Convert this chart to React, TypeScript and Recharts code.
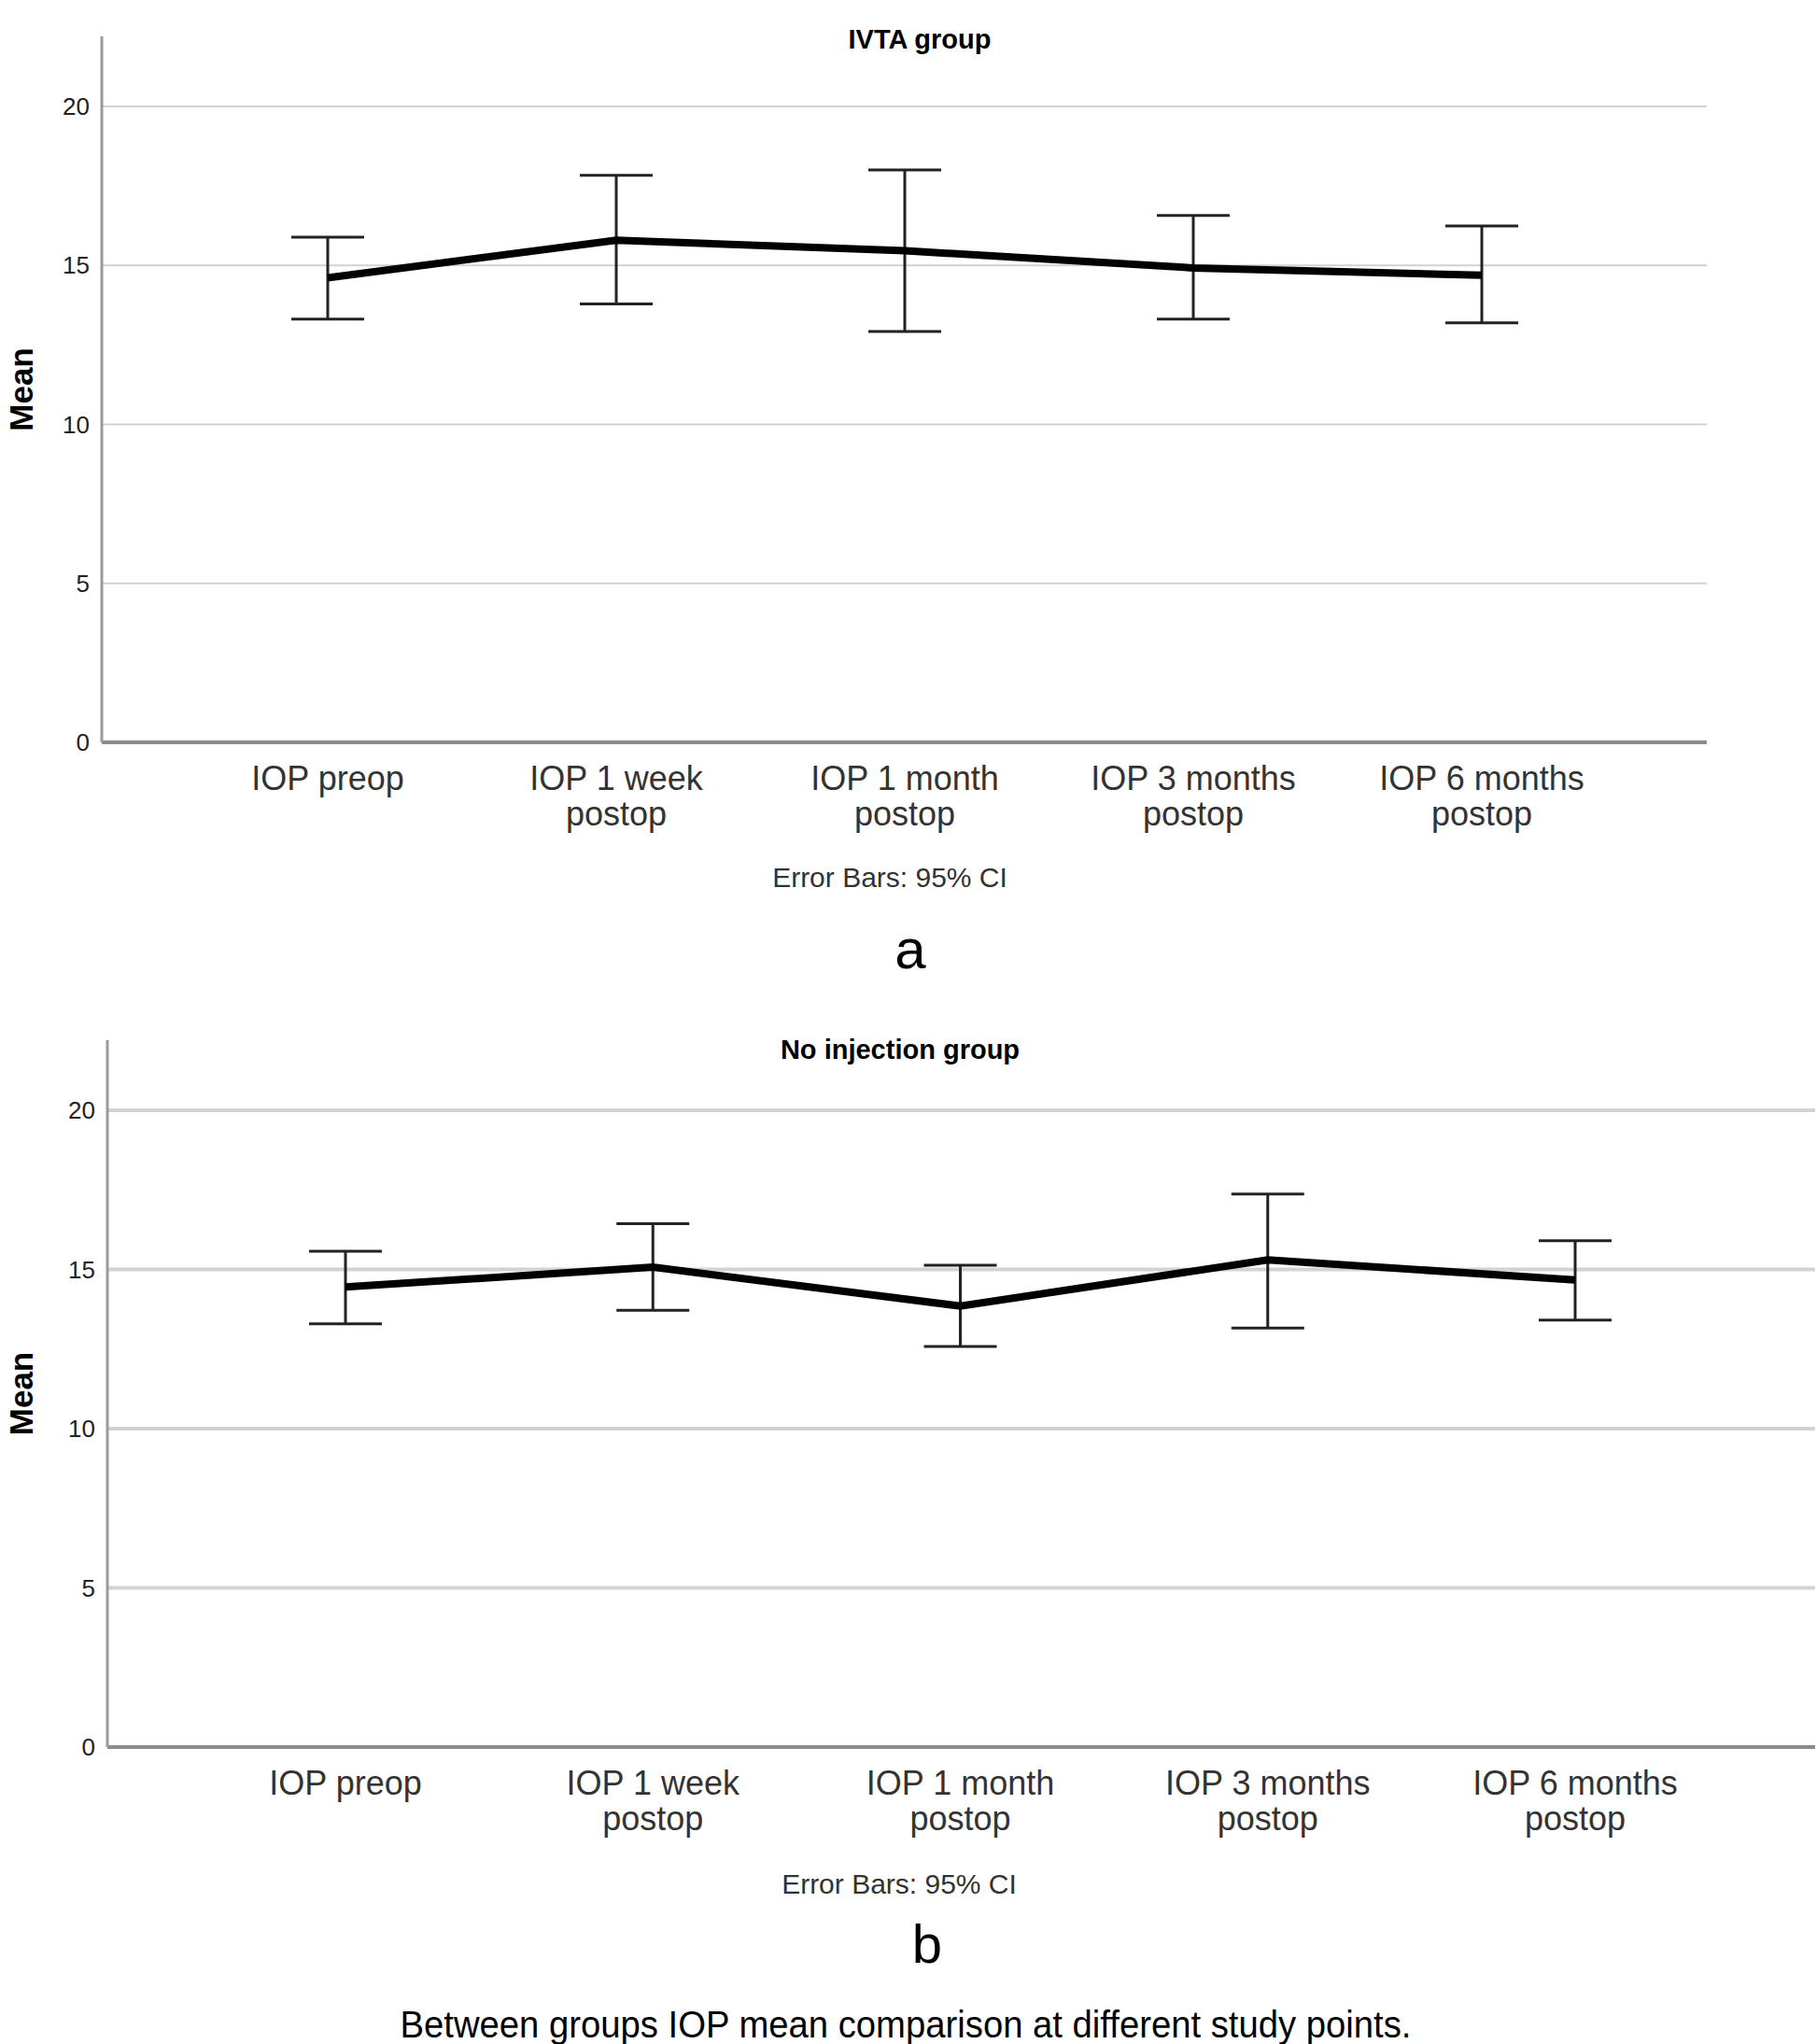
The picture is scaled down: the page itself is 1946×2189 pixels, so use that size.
import React from 'react';
import { LineChart, Line, XAxis, YAxis, CartesianGrid, ErrorBar } from 'recharts';

const categories = [
  'IOP preop',
  'IOP 1 week\npostop',
  'IOP 1 month\npostop',
  'IOP 3 months\npostop',
  'IOP 6 months\npostop',
];
const yTicks = [0, 5, 10, 15, 20];
const gridValues = [5, 10, 15, 20];

// IVTA group: mean with 95% CI bounds
const ivtaMean = [14.61, 15.79, 15.46, 14.92, 14.69];
const ivtaLower = [13.31, 13.79, 12.92, 13.31, 13.19];
const ivtaUpper = [15.89, 17.83, 18.0, 16.57, 16.24];

// No injection group
const noInjMean = [14.45, 15.07, 13.85, 15.3, 14.67];
const noInjLower = [13.29, 13.72, 12.58, 13.16, 13.41];
const noInjUpper = [15.57, 16.44, 15.13, 17.37, 15.9];

const FONT = '"Liberation Sans", Arial, sans-serif';

const buildData = (mean: number[], lower: number[], upper: number[]) =>
  categories.map((name, i) => ({
    name,
    mean: mean[i],
    ci: [mean[i] - lower[i], upper[i] - mean[i]],
  }));

const ivtaData = buildData(ivtaMean, ivtaLower, ivtaUpper);
const noInjData = buildData(noInjMean, noInjLower, noInjUpper);

const CategoryTick = (props: any) => {
  const { x, y, payload } = props;
  const lines = String(payload.value).split('\n');
  return (
    <text x={x} y={y} textAnchor="middle" fontSize={36} fill="#333" fontFamily={FONT}>
      {lines.map((l, i) => (
        <tspan key={i} x={x} dy={i === 0 ? 51 : 38}>
          {l}
        </tspan>
      ))}
    </text>
  );
};

const MeanLabel = (props: any) => {
  const { viewBox } = props;
  const cx = 35;
  const cy = viewBox.y + viewBox.height / 2;
  return (
    <text
      x={cx}
      y={cy}
      transform={`rotate(-90, ${cx}, ${cy})`}
      textAnchor="middle"
      fontWeight="bold"
      fontSize={35}
      fill="#000"
      fontFamily={FONT}
    >
      Mean
    </text>
  );
};

interface GroupChartProps {
  data: any[];
  top: number;
  margin: { top: number; left: number; right: number; bottom: number };
  xHeight: number;
  xPad: { left: number; right: number };
  gridWidth: number;
}

const GroupChart: React.FC<GroupChartProps> = ({ data, top, margin, xHeight, xPad, gridWidth }) => (
  <div style={{ position: 'absolute', left: 0, top }}>
    <LineChart width={1946} height={1000} data={data} margin={margin}>
      <CartesianGrid
        vertical={false}
        horizontalValues={gridValues}
        stroke="#d2d2d2"
        strokeWidth={gridWidth}
      />
      <XAxis
        dataKey="name"
        scale="point"
        padding={xPad}
        height={xHeight}
        interval={0}
        tickLine={false}
        tickSize={0}
        tickMargin={0}
        axisLine={{ stroke: '#8c8c8c', strokeWidth: 4 }}
        tick={<CategoryTick />}
      />
      <YAxis
        type="number"
        domain={[0, 22.2]}
        ticks={yTicks}
        width={100}
        tickLine={false}
        tickSize={0}
        tickMargin={13}
        axisLine={{ stroke: '#9a9a9a', strokeWidth: 3 }}
        tick={{ fontSize: 26, fill: '#222', fontFamily: FONT }}
        label={<MeanLabel />}
      />
      <Line
        type="linear"
        dataKey="mean"
        stroke="#000"
        strokeWidth={8}
        dot={false}
        activeDot={false}
        isAnimationActive={false}
      >
        <ErrorBar dataKey="ci" direction="y" width={39} stroke="#222" strokeWidth={3} />
      </Line>
    </LineChart>
  </div>
);

export default function App() {
  return (
    <div
      style={{
        position: 'absolute',
        left: 0,
        top: 0,
        width: 1946,
        height: 2189,
        background: '#fff',
        overflow: 'hidden',
      }}
    >
      <GroupChart
        data={ivtaData}
        top={0}
        margin={{ top: 39, left: 9, right: 118, bottom: 0 }}
        xHeight={205}
        xPad={{ left: 242, right: 241 }}
        gridWidth={2}
      />
      <GroupChart
        data={noInjData}
        top={1080}
        margin={{ top: 34, left: 15, right: 2, bottom: 0 }}
        xHeight={209}
        xPad={{ left: 255, right: 257 }}
        gridWidth={4}
      />
      <svg
        width={1946}
        height={2189}
        style={{ position: 'absolute', left: 0, top: 0, pointerEvents: 'none' }}
      >
        <text x={985} y={52} textAnchor="middle" fontSize={29} fontWeight="bold" fontFamily={FONT} fill="#000">
          IVTA group
        </text>
        <text x={953} y={950} textAnchor="middle" fontSize={30} fontFamily={FONT} fill="#333">
          Error Bars: 95% CI
        </text>
        <text x={975} y={1037} textAnchor="middle" fontSize={60} fontFamily={FONT} fill="#000">
          a
        </text>
        <text x={964} y={1134} textAnchor="middle" fontSize={29} fontWeight="bold" fontFamily={FONT} fill="#000">
          No injection group
        </text>
        <text x={963} y={2028} textAnchor="middle" fontSize={30} fontFamily={FONT} fill="#333">
          Error Bars: 95% CI
        </text>
        <text x={993} y={2102} textAnchor="middle" fontSize={58} fontFamily={FONT} fill="#000">
          b
        </text>
        <text
          x={970}
          y={2182}
          textAnchor="middle"
          fontSize={40}
          fontFamily={FONT}
          fill="#000"
          textLength={1083}
          lengthAdjust="spacingAndGlyphs"
        >
          Between groups IOP mean comparison at different study points.
        </text>
      </svg>
    </div>
  );
}
